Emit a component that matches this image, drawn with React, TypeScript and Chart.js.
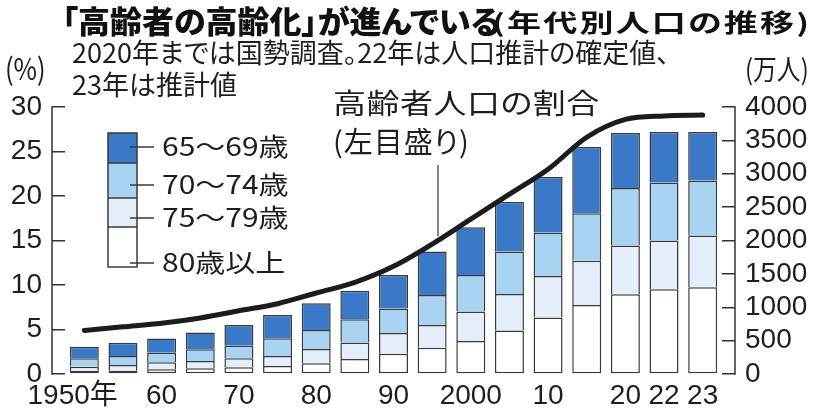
import React, { useEffect, useRef } from 'react';
import { Chart, registerables } from 'chart.js';

Chart.register(...registerables);

// ---- data ----
const years = ['1950', '1955', '1960', '1965', '1970', '1975', '1980', '1985', '1990', '1995', '2000', '2005', '2010', '2015', '2020', '2022', '2023'];
const yearTickLabels = ['1950年   ', '', '60', '', '70', '', '80', '', '90', '', '2000', '', '10', '', '20', '22', '23'];
// 万人
const age80plus = [45, 50, 70, 85, 100, 120, 160, 225, 305, 395, 495, 650, 845, 1035, 1195, 1270, 1300];
const age75to79 = [65, 85, 105, 110, 135, 150, 215, 248, 310, 340, 440, 550, 625, 660, 730, 730, 775];
const age70to74 = [125, 135, 145, 175, 190, 265, 285, 347, 365, 450, 550, 635, 650, 715, 860, 870, 825];
const age65to69 = [175, 200, 210, 250, 310, 350, 400, 428, 505, 650, 715, 740, 830, 990, 825, 755, 725];
// %
const elderlySharePct = [4.9, 5.3, 5.7, 6.3, 7.1, 7.9, 9.1, 10.3, 12.1, 14.6, 17.4, 20.2, 23.0, 26.6, 28.6, 29.0, 29.1];
const shareAxis = { min: 0, max: 30, step: 5 };
const populationAxis = { min: 0, max: 4000, step: 500 };
const ageGroupLabels = ['65～69歳', '70～74歳', '75～79歳', '80歳以上'];

// ---- styles ----
const COLORS = {
  a65: '#3a78c8',
  a70: '#a8d4f1',
  a75: '#e5effa',
  a80: '#ffffff',
  border: '#3a3a3a',
  line: '#1c1c1c',
  text: '#1e1e1e',
};
const CJK = "'Noto Sans CJK JP', 'Noto Sans', sans-serif";
const NUM = "'Liberation Sans', 'Noto Sans CJK JP', sans-serif";

const decorPlugin = {
  id: 'decor',
  afterDraw(chart: any) {
    const { ctx, chartArea, scales } = chart;
    const yL = scales.y;
    const yR = scales.y2;
    ctx.save();
    ctx.strokeStyle = '#333';
    ctx.lineWidth = 1.5;
    const xl = chartArea.left - 13;
    const xr = chartArea.right + 13;
    ctx.beginPath();
    ctx.moveTo(xl, yL.getPixelForValue(shareAxis.max) - 0.75);
    ctx.lineTo(xl, yL.getPixelForValue(shareAxis.min) + 0.75);
    ctx.moveTo(xr, yR.getPixelForValue(populationAxis.max) - 0.75);
    ctx.lineTo(xr, yR.getPixelForValue(populationAxis.min) + 0.75);
    ctx.stroke();

    // legend swatch (stacked box)
    const bx = 108, bw = 29;
    const edges = [133, 163, 198, 227, 267];
    const fills = [COLORS.a65, COLORS.a70, COLORS.a75, COLORS.a80];
    for (let i = 0; i < 4; i++) {
      ctx.fillStyle = fills[i];
      ctx.fillRect(bx, edges[i], bw, edges[i + 1] - edges[i]);
    }
    ctx.strokeStyle = COLORS.border;
    ctx.lineWidth = 1.5;
    ctx.strokeRect(bx, edges[0], bw, edges[4] - edges[0]);
    ctx.beginPath();
    for (let i = 1; i < 4; i++) {
      ctx.moveTo(bx, edges[i]);
      ctx.lineTo(bx + bw, edges[i]);
    }
    const leaders = [147, 185, 218, 263];
    leaders.forEach((y) => {
      ctx.moveTo(130, y);
      ctx.lineTo(154, y);
    });
    ctx.stroke();

    // annotation leader
    ctx.strokeStyle = '#444';
    ctx.lineWidth = 1.3;
    ctx.beginPath();
    ctx.moveTo(438, 165);
    ctx.lineTo(438, 236);
    ctx.stroke();
    ctx.restore();
  },
};

function Txt(props: any) {
  const { x, y, size, weight = 400, sy = 1, sx = 1, color = COLORS.text, family = CJK, ls, children } = props;
  return (
    <div
      style={{
        position: 'absolute',
        left: x,
        top: y,
        fontSize: size,
        fontWeight: weight,
        lineHeight: 1,
        whiteSpace: 'nowrap',
        color,
        fontFamily: family,
        fontFeatureSettings: '"palt"',
        transform: `scale(${sx}, ${sy})`,
        transformOrigin: 'left top',
        letterSpacing: ls,
      }}
    >
      {children}
    </div>
  );
}

export default function App() {
  const ref = useRef<HTMLCanvasElement | null>(null);

  useEffect(() => {
    if (!ref.current) return;
    const barBase = {
      type: 'bar' as const,
      yAxisID: 'y2',
      borderColor: COLORS.border,
      borderWidth: 1.5,
      categoryPercentage: 0.75,
      barPercentage: 1,
      order: 1,
      stack: 'pop',
    };
    const axisTicks = (step: number) => ({
      stepSize: step,
      autoSkip: false,
      padding: 10,
      color: COLORS.text,
      font: { family: NUM, size: 28 },
      callback: (v: any) => String(v),
    });
    const chart = new Chart(ref.current, {
      type: 'bar',
      data: {
        labels: years,
        datasets: [
          {
            type: 'line',
            label: '高齢者人口の割合',
            data: elderlySharePct,
            yAxisID: 'y',
            borderColor: COLORS.line,
            borderWidth: 5,
            pointRadius: 0,
            cubicInterpolationMode: 'monotone',
            borderCapStyle: 'round',
            order: 0,
          } as any,
          { ...barBase, label: ageGroupLabels[3], data: age80plus, backgroundColor: COLORS.a80, borderSkipped: false } as any,
          { ...barBase, label: ageGroupLabels[2], data: age75to79, backgroundColor: COLORS.a75, borderSkipped: 'bottom' } as any,
          { ...barBase, label: ageGroupLabels[1], data: age70to74, backgroundColor: COLORS.a70, borderSkipped: 'bottom' } as any,
          { ...barBase, label: ageGroupLabels[0], data: age65to69, backgroundColor: COLORS.a65, borderSkipped: 'bottom' } as any,
        ],
      },
      options: {
        responsive: false,
        animation: false,
        devicePixelRatio: 1,
        layout: { padding: { top: 107, left: 0, right: 0, bottom: 0 } },
        plugins: { legend: { display: false }, tooltip: { enabled: false }, title: { display: false } },
        scales: {
          x: {
            type: 'category',
            stacked: true,
            offset: true,
            grid: { display: false, drawTicks: false },
            border: { display: false },
            ticks: {
              autoSkip: false,
              maxRotation: 0,
              padding: 5,
              color: COLORS.text,
              font: { family: NUM, size: 28 },
              callback: (_v: any, i: number) => yearTickLabels[i],
            },
            afterFit: (s: any) => {
              s.height = 41;
            },
          },
          y: {
            position: 'left',
            min: shareAxis.min,
            max: shareAxis.max,
            grid: { drawOnChartArea: false, drawTicks: true, tickLength: 13, color: '#333', lineWidth: 1.5 },
            border: { display: false },
            ticks: axisTicks(shareAxis.step),
            afterFit: (s: any) => {
              s.width = 65;
            },
          },
          y2: {
            position: 'right',
            stacked: true,
            min: populationAxis.min,
            max: populationAxis.max,
            grid: { drawOnChartArea: false, drawTicks: true, tickLength: 13, color: '#333', lineWidth: 1.5 },
            border: { display: false },
            ticks: axisTicks(populationAxis.step),
            afterFit: (s: any) => {
              s.width = 92;
            },
          },
        },
      } as any,
      plugins: [decorPlugin],
    });
    return () => chart.destroy();
  }, []);

  return (
    <div style={{ position: 'fixed', left: 0, top: 0, width: 814, height: 415, background: '#fff', overflow: 'hidden' }}>
      <canvas ref={ref} width={814} height={415} style={{ position: 'absolute', left: 0, top: 0, width: 814, height: 415 }} />
      <Txt x={62} y={4} size={32} weight={900} sy={0.95} color="#111">「高齢者の高齢化」が進んでいる</Txt>
      <Txt x={492} y={10} size={34} weight={700} sy={0.72} ls={2.2} color="#111">(年代別人口の推移)</Txt>
      <Txt x={72} y={38} size={27}>2020年までは国勢調査。22年は人口推計の確定値、</Txt>
      <Txt x={72} y={70} size={27}>23年は推計値</Txt>
      <Txt x={5} y={52} size={30} sx={0.85}>(%)</Txt>
      <Txt x={745} y={54} size={28} sx={0.85}>(万人)</Txt>
      <Txt x={333} y={88} size={33} sy={0.85} ls={0.5}>高齢者人口の割合</Txt>
      <Txt x={333} y={126} size={29} ls={1}>(左目盛り)</Txt>
      <Txt x={162} y={132} size={30} sy={0.85}>{ageGroupLabels[0]}</Txt>
      <Txt x={162} y={170} size={30} sy={0.85}>{ageGroupLabels[1]}</Txt>
      <Txt x={162} y={203} size={30} sy={0.85}>{ageGroupLabels[2]}</Txt>
      <Txt x={162} y={248} size={30} sy={0.85}>{ageGroupLabels[3]}</Txt>
    </div>
  );
}
